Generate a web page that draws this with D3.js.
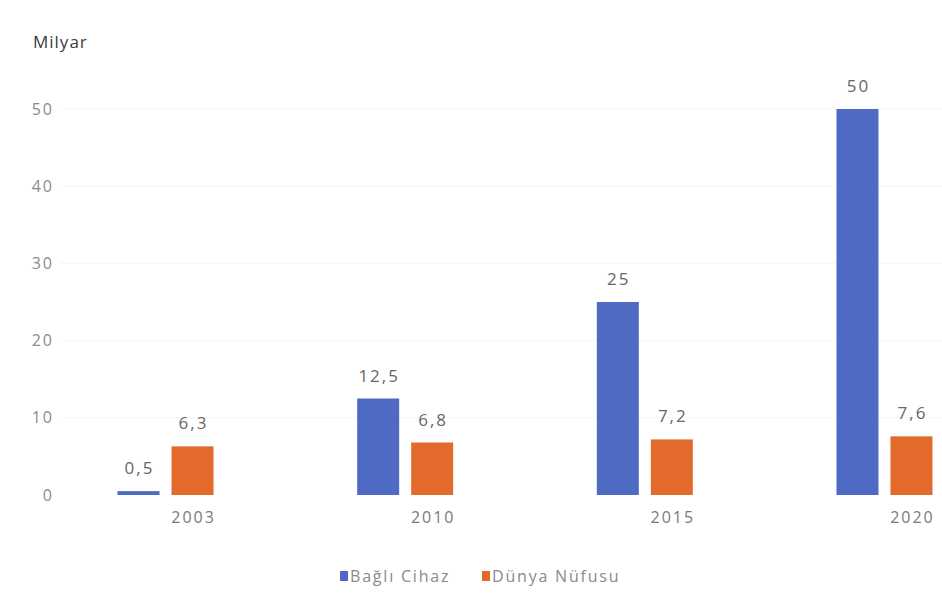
<!DOCTYPE html>
<html>
<head>
<meta charset="utf-8">
<script src="https://cdn.jsdelivr.net/npm/d3@7"></script>
<style>
  body { margin: 0; background: #fff; }
  svg { display: block; font-family: "Open Sans", "DejaVu Sans", sans-serif; }
</style>
</head>
<body>
<svg id="chart" width="942" height="595"></svg>
<script>
// Bağlı cihaz sayısı ve dünya nüfusu (milyar)
const years = ["2003", "2010", "2015", "2020"];
const seriesNames = ["Bağlı Cihaz", "Dünya Nüfusu"];
const connectedDevices = [0.5, 12.5, 25, 50];
const worldPopulation = [6.3, 6.8, 7.2, 7.6];
const yTicks = [0, 10, 20, 30, 40, 50];
const colors = ["#4e6ac2", "#e26b2c"];

const seriesValues = [connectedDevices, worldPopulation];
const rows = years.map((year, i) => ({
  year,
  values: seriesNames.map((name, s) => ({ name, value: seriesValues[s][i], s }))
}));

const svg = d3.select("#chart");

const y = d3.scaleLinear().domain([0, 50]).range([495, 109]);

const x0 = d3.scaleBand().domain(years).range([45.7, 1004.3]).padding(0);
const groupWidth = 96;
const x1 = d3.scaleBand().domain(seriesNames)
  .range([(x0.bandwidth() - groupWidth) / 2, (x0.bandwidth() + groupWidth) / 2])
  .paddingInner(12 / 54).paddingOuter(0);

// faint horizontal gridlines
svg.append("g")
  .selectAll("line")
  .data(yTicks.slice(1))
  .join("line")
  .attr("x1", 60).attr("x2", 942)
  .attr("y1", d => y(d)).attr("y2", d => y(d))
  .attr("stroke", "#f5f5f5").attr("stroke-width", 1);

// y axis
const yAxis = svg.append("g")
  .attr("transform", "translate(54,0)")
  .call(d3.axisLeft(y).tickValues(yTicks).tickSize(0).tickPadding(0));
yAxis.select(".domain").remove();
yAxis.selectAll("text")
  .attr("fill", "#8c8c8c")
  .attr("font-size", 16)
  .attr("letter-spacing", 2)
  .attr("font-family", "Open Sans, sans-serif");

// unit title
svg.append("text")
  .attr("x", 33).attr("y", 48)
  .attr("fill", "#3a3a3a")
  .attr("font-size", 17)
  .attr("letter-spacing", 1)
  .text("Milyar");

// bars
const groups = svg.append("g").selectAll("g")
  .data(rows)
  .join("g")
  .attr("transform", d => `translate(${x0(d.year)},0)`);

groups.selectAll("rect")
  .data(d => d.values)
  .join("rect")
  .attr("x", d => x1(d.name))
  .attr("width", x1.bandwidth())
  .attr("y", d => y(d.value))
  .attr("height", d => y(0) - y(d.value))
  .attr("fill", d => colors[d.s]);

// value labels
const fmt = v => String(v).replace(".", ",");
groups.selectAll("text.val")
  .data(d => d.values)
  .join("text")
  .attr("class", "val")
  .attr("x", d => x1(d.name) + x1.bandwidth() / 2)
  .attr("y", d => y(d.value) - 17)
  .attr("dx", 1)
  .attr("text-anchor", "middle")
  .attr("fill", "#666666")
  .attr("font-size", 17)
  .attr("letter-spacing", 2)
  .text(d => fmt(d.value));

// category labels, placed under the second bar of each group
const labelOffset = x1(seriesNames[1]) + x1.bandwidth() / 2 - x0.bandwidth() / 2;
const xAxis = svg.append("g")
  .attr("transform", "translate(0,512)")
  .call(d3.axisBottom(x0).tickSize(0).tickPadding(0));
xAxis.select(".domain").remove();
xAxis.selectAll("text")
  .attr("dx", labelOffset + 1)
  .attr("fill", "#7a7a7a")
  .attr("font-size", 16)
  .attr("letter-spacing", 2)
  .attr("font-family", "Open Sans, sans-serif");

// legend
const legendX = [340, 482];
const legend = svg.append("g").selectAll("g")
  .data(seriesNames)
  .join("g")
  .attr("transform", (d, i) => `translate(${legendX[i]},571)`);
legend.append("rect")
  .attr("width", 8).attr("height", 10)
  .attr("y", 0)
  .attr("fill", (d, i) => colors[i]);
legend.append("text")
  .attr("x", 10).attr("y", 11)
  .attr("fill", "#8a8a8a")
  .attr("font-size", 16)
  .attr("letter-spacing", 1.8)
  .text(d => d);
</script>
</body>
</html>
